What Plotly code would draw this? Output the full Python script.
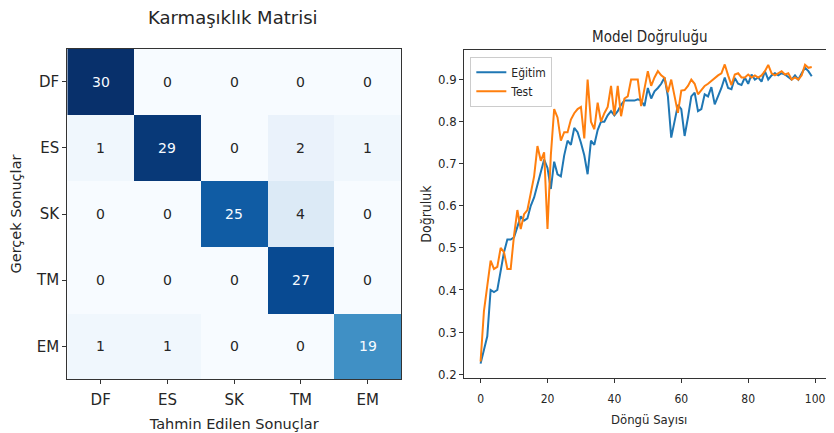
import plotly.graph_objects as go

# ---------------------------------------------------------------------------
# Data
# ---------------------------------------------------------------------------

labels = ["DF", "ES", "SK", "TM", "EM"]

# rows = actual (Gerçek), cols = predicted (Tahmin)
conf_matrix = [
    [30, 0, 0, 0, 0],
    [1, 29, 0, 2, 1],
    [0, 0, 25, 4, 0],
    [0, 0, 0, 27, 0],
    [1, 1, 0, 0, 19],
]

epochs = list(range(100))

train_acc = [
    0.225, 0.26, 0.29, 0.40, 0.395, 0.40, 0.45, 0.49, 0.52, 0.52,
    0.525, 0.55, 0.575, 0.565, 0.57, 0.60, 0.62, 0.65, 0.68, 0.71,
    0.69, 0.64, 0.705, 0.675, 0.67, 0.72, 0.755, 0.745, 0.785, 0.775,
    0.75, 0.72, 0.675, 0.755, 0.745, 0.78, 0.80, 0.80, 0.815, 0.825,
    0.815, 0.825, 0.84, 0.85, 0.85, 0.85, 0.85, 0.853, 0.85, 0.837,
    0.88, 0.855, 0.872, 0.88, 0.89, 0.905, 0.86, 0.762, 0.80, 0.84,
    0.83, 0.766, 0.81, 0.86, 0.869, 0.825, 0.83, 0.865, 0.86, 0.882,
    0.841, 0.86, 0.88, 0.905, 0.88, 0.877, 0.904, 0.89, 0.887, 0.905,
    0.89, 0.912, 0.90, 0.905, 0.895, 0.92, 0.90, 0.91, 0.915, 0.91,
    0.915, 0.912, 0.905, 0.90, 0.91, 0.90, 0.915, 0.928, 0.92, 0.908,
]

test_acc = [
    0.23, 0.35, 0.41, 0.47, 0.45, 0.455, 0.50, 0.49, 0.45, 0.45,
    0.53, 0.59, 0.545, 0.58, 0.59, 0.63, 0.67, 0.742, 0.707, 0.727,
    0.545, 0.72, 0.83, 0.81, 0.755, 0.775, 0.775, 0.805, 0.82, 0.83,
    0.835, 0.76, 0.90, 0.80, 0.782, 0.845, 0.80, 0.82, 0.835, 0.885,
    0.815, 0.885, 0.813, 0.855, 0.86, 0.90, 0.90, 0.90, 0.837, 0.88,
    0.92, 0.885, 0.905, 0.92, 0.91, 0.904, 0.87, 0.90, 0.86, 0.821,
    0.874, 0.875, 0.885, 0.90, 0.89, 0.865, 0.875, 0.885, 0.89, 0.897,
    0.905, 0.91, 0.915, 0.936, 0.91, 0.887, 0.912, 0.915, 0.905, 0.905,
    0.912, 0.905, 0.91, 0.905, 0.91, 0.92, 0.935, 0.915, 0.91, 0.915,
    0.92, 0.912, 0.915, 0.90, 0.905, 0.90, 0.91, 0.935, 0.928, 0.93,
]

acc_ticks = [0.2, 0.3, 0.4, 0.5, 0.6, 0.7, 0.8, 0.9]
epoch_ticks = [0, 20, 40, 60, 80, 100]

# matplotlib "Blues"
BLUES = [
    [0.0, "#f7fbff"], [0.125, "#deebf7"], [0.25, "#c6dbef"],
    [0.375, "#9ecae1"], [0.5, "#6baed6"], [0.625, "#4292c6"],
    [0.75, "#2171b5"], [0.875, "#08519c"], [1.0, "#08306b"],
]

FONT = "DejaVu Sans"
FONT_C = "DejaVu Sans Condensed, DejaVu Sans"
AXIS_COL = "#333333"
TEXT_COL = "#262626"

# the page body has an 8px margin, so the figure is drawn 8px in from the
# window corner; size it to what is actually visible and place by window px
OFF = 8
W, H = 834 - OFF, 433 - OFF


def px(x):
    return (x - OFF) / W


def py(y):
    return 1 - (y - OFF) / H


# epoch axis: 0 at window x 479, 100 at 815 so the "100" label stays visible
EP_X0, EP_X100 = 479.3, 815.0
ep_scale = (EP_X100 - EP_X0) / 100
ep_range = [-(EP_X0 - 463) / ep_scale, (834 - EP_X0) / ep_scale]

fig = go.Figure()

# --- confusion matrix -------------------------------------------------------
fig.add_trace(go.Heatmap(
    z=conf_matrix, x=labels, y=labels,
    colorscale=BLUES, zmin=0, zmax=30, showscale=False,
    xaxis="x", yaxis="y", hoverinfo="z",
))

vmax = max(max(r) for r in conf_matrix)
cell_notes = []
for i, row in enumerate(conf_matrix):
    for j, v in enumerate(row):
        cell_notes.append(dict(
            x=labels[j], y=labels[i], xref="x", yref="y", text=str(v),
            showarrow=False,
            font=dict(family=FONT, size=14,
                      color="#f7fbff" if v > vmax / 2 else TEXT_COL),
        ))

# --- accuracy curves --------------------------------------------------------
fig.add_trace(go.Scatter(
    x=epochs, y=train_acc, mode="lines", name="Eğitim",
    line=dict(color="#1f77b4", width=2), xaxis="x2", yaxis="y2",
))
fig.add_trace(go.Scatter(
    x=epochs, y=test_acc, mode="lines", name="Test",
    line=dict(color="#ff7f0e", width=2), xaxis="x2", yaxis="y2",
))

common_axis = dict(
    showline=True, linecolor=AXIS_COL, linewidth=1.2,
    ticks="outside", ticklen=4, tickcolor=AXIS_COL,
    showgrid=False, zeroline=False,
)

fig.update_layout(
    width=W, height=H,
    margin=dict(l=0, r=0, t=0, b=0),
    paper_bgcolor="white", plot_bgcolor="white",
    font=dict(family=FONT, color=TEXT_COL),
    showlegend=True,
    legend=dict(
        x=px(469), y=py(57), xanchor="left", yanchor="top",
        bgcolor="rgba(255,255,255,0.85)", bordercolor="#cccccc", borderwidth=1,
        font=dict(family=FONT_C, size=12, color=TEXT_COL),
        tracegroupgap=0, itemwidth=30,
    ),
    xaxis=dict(
        **common_axis, domain=[px(64.5), px(399.5)], mirror=True,
        tickfont=dict(size=15, family=FONT), anchor="y", ticklabelstandoff=3,
        title=dict(text="Tahmin Edilen Sonuçlar", font=dict(size=14.5), standoff=10),
        categoryorder="array", categoryarray=labels,
    ),
    yaxis=dict(
        **common_axis, domain=[py(382), py(49)], mirror=True,
        tickfont=dict(size=15, family=FONT), anchor="x",
        autorange="reversed",
        title=dict(text="Gerçek Sonuçlar", font=dict(size=14.5), standoff=18),
        categoryorder="array", categoryarray=labels,
    ),
    xaxis2=dict(
        **common_axis, domain=[px(463), 1.0], mirror=True, anchor="y2",
        range=ep_range, tickvals=epoch_ticks,
        ticklabeloverflow="allow", ticklabelstandoff=5,
        tickfont=dict(size=12, family=FONT_C),
        title=dict(text="Döngü Sayısı", font=dict(size=13, family=FONT_C), standoff=10),
    ),
    yaxis2=dict(
        **common_axis, domain=[py(381), py(50)], anchor="x2",
        range=[0.19, 0.971], tickvals=acc_ticks, tickformat=".1f",
        tickfont=dict(size=13, family=FONT_C),
        title=dict(text="Doğruluk", font=dict(size=14, family=FONT_C), standoff=3),
    ),
    annotations=cell_notes + [
        dict(text="Karmaşıklık Matrisi", x=px(231), y=py(18),
             xref="paper", yref="paper", xanchor="center", yanchor="middle",
             showarrow=False,
             font=dict(size=18, family=FONT, color=TEXT_COL)),
        dict(text="Model Doğruluğu", x=px(649), y=py(37),
             xref="paper", yref="paper", xanchor="center", yanchor="middle",
             showarrow=False,
             font=dict(size=15, family=FONT_C, color=TEXT_COL)),
    ],
)

fig.write_html("out.html")
